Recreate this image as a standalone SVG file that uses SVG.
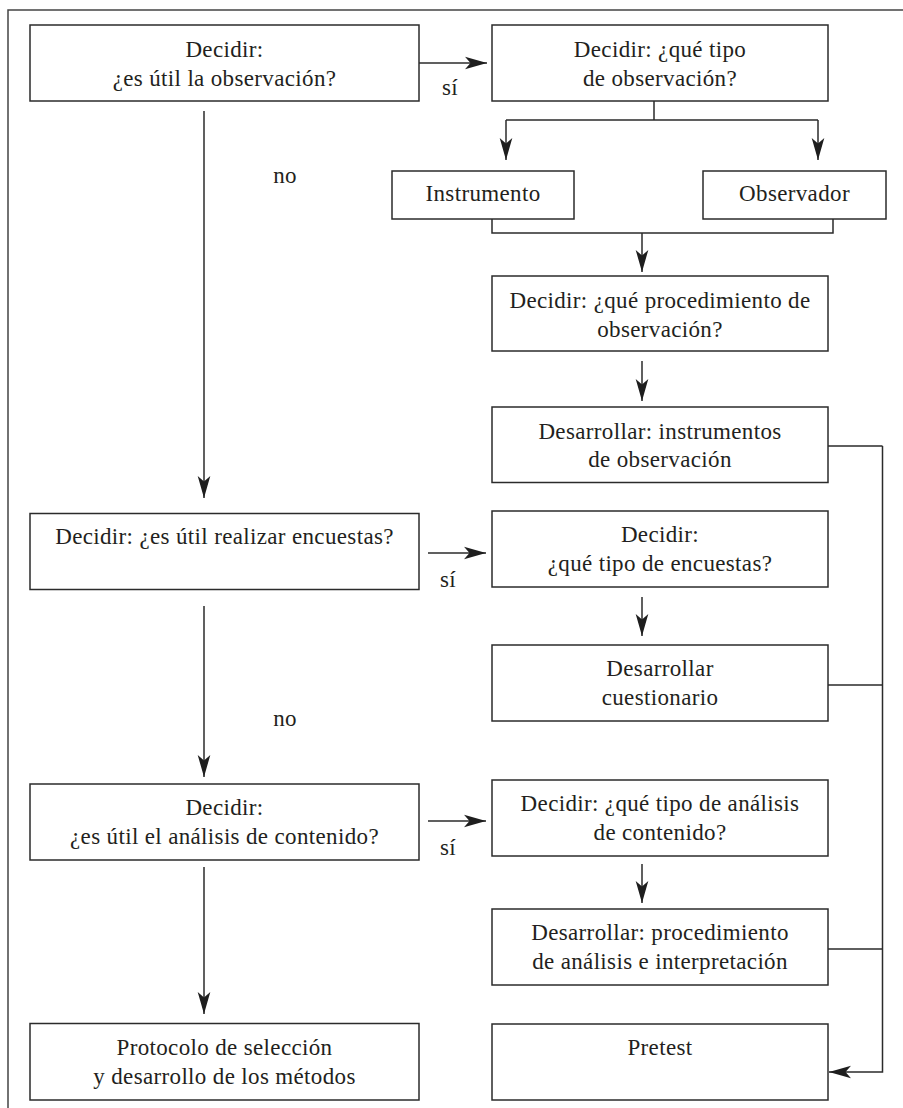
<svg xmlns="http://www.w3.org/2000/svg" width="903" height="1108" viewBox="0 0 903 1108">
  <style>
    .box { fill: #ffffff; stroke: #2b2b2b; stroke-width: 1.5; }
    .lbl { font-family: "Liberation Serif", "Times New Roman", serif; font-size: 23px; letter-spacing: 0.35px; fill: #231f20; text-anchor: middle; }
    .edge { fill: none; stroke: #2b2b2b; stroke-width: 1.5; }
    .arrow { marker-end: url(#head); }
    .frame { fill: none; stroke: #444444; stroke-width: 1.5; }
  </style>
  <defs>
    <marker id="head" viewBox="-24 -8 25 16" refX="0" refY="0" markerWidth="25" markerHeight="16" markerUnits="userSpaceOnUse" orient="auto">
      <path d="M0,0 L-22,-6.3 L-16.5,0 L-22,6.3 Z" fill="#1e1e1e"/>
    </marker>
  </defs>
  <rect width="903" height="1108" fill="#ffffff"/>

  <!-- page frame -->
  <path class="frame" d="M8,1108 V10 H903"/>

  <!-- connectors -->
  <g id="connectors">
    <!-- observation branch -->
    <path class="edge arrow" d="M419,63 H487"/>
    <path class="edge arrow" d="M204,111 V498"/>
    <path class="edge" d="M654,101 V120 M506,120 H818"/>
    <path class="edge arrow" d="M506,120 V160"/>
    <path class="edge arrow" d="M818,120 V160"/>
    <path class="edge" d="M492,219 V233 H833 V219"/>
    <path class="edge arrow" d="M642,233 V272"/>
    <path class="edge arrow" d="M642,361 V401"/>

    <!-- survey branch -->
    <path class="edge arrow" d="M428,553 H486"/>
    <path class="edge arrow" d="M204,606 V777"/>
    <path class="edge arrow" d="M642,597 V636"/>

    <!-- content analysis branch -->
    <path class="edge arrow" d="M428,821 H486"/>
    <path class="edge arrow" d="M204,867 V1014"/>
    <path class="edge arrow" d="M642,864 V903"/>

    <!-- collector to pretest -->
    <path class="edge" d="M828,446 H882.5 M828,685 H882.5 M828,949 H882.5"/>
    <path class="edge arrow" d="M882.5,446 V1072 H829"/>

    <!-- branch labels -->
    <text class="lbl" x="450" y="95">sí</text>
    <text class="lbl" x="448" y="587">sí</text>
    <text class="lbl" x="448" y="855">sí</text>
    <text class="lbl" x="285" y="183">no</text>
    <text class="lbl" x="285" y="726">no</text>
  </g>

  <!-- left column -->
  <g id="n-observacion">
    <rect class="box" x="30" y="25" width="389" height="76"/>
    <text class="lbl" x="224.5" y="57">Decidir:</text>
    <text class="lbl" x="224.5" y="86">¿es útil la observación?</text>
  </g>
  <g id="n-encuestas">
    <rect class="box" x="30" y="513.5" width="389" height="76"/>
    <text class="lbl" x="224.5" y="544">Decidir: ¿es útil realizar encuestas?</text>
  </g>
  <g id="n-contenido">
    <rect class="box" x="30" y="784" width="389" height="76"/>
    <text class="lbl" x="224.5" y="815">Decidir:</text>
    <text class="lbl" x="224.5" y="844">¿es útil el análisis de contenido?</text>
  </g>
  <g id="n-protocolo">
    <rect class="box" x="30" y="1023.5" width="389" height="76.5"/>
    <text class="lbl" x="224.5" y="1055">Protocolo de selección</text>
    <text class="lbl" x="224.5" y="1084">y desarrollo de los métodos</text>
  </g>

  <!-- right column -->
  <g id="n-tipo-observacion">
    <rect class="box" x="492" y="25" width="336" height="76"/>
    <text class="lbl" x="660" y="57">Decidir: ¿qué tipo</text>
    <text class="lbl" x="660" y="86">de observación?</text>
  </g>
  <g id="n-instrumento">
    <rect class="box" x="392" y="171" width="182" height="48"/>
    <text class="lbl" x="483" y="201">Instrumento</text>
  </g>
  <g id="n-observador">
    <rect class="box" x="703" y="171" width="183" height="48"/>
    <text class="lbl" x="794.5" y="201">Observador</text>
  </g>
  <g id="n-procedimiento">
    <rect class="box" x="492" y="276" width="336" height="75"/>
    <text class="lbl" x="660" y="307.5">Decidir: ¿qué procedimiento de</text>
    <text class="lbl" x="660" y="336.5">observación?</text>
  </g>
  <g id="n-instrumentos">
    <rect class="box" x="492" y="407" width="336" height="75.5"/>
    <text class="lbl" x="660" y="438.5">Desarrollar: instrumentos</text>
    <text class="lbl" x="660" y="467">de observación</text>
  </g>
  <g id="n-tipo-encuestas">
    <rect class="box" x="492" y="511" width="336" height="76"/>
    <text class="lbl" x="660" y="542">Decidir:</text>
    <text class="lbl" x="660" y="571">¿qué tipo de encuestas?</text>
  </g>
  <g id="n-cuestionario">
    <rect class="box" x="492" y="645" width="336" height="76"/>
    <text class="lbl" x="660" y="676">Desarrollar</text>
    <text class="lbl" x="660" y="705">cuestionario</text>
  </g>
  <g id="n-tipo-analisis">
    <rect class="box" x="492" y="780" width="336" height="76"/>
    <text class="lbl" x="660" y="811">Decidir: ¿qué tipo de análisis</text>
    <text class="lbl" x="660" y="840">de contenido?</text>
  </g>
  <g id="n-procedimiento-analisis">
    <rect class="box" x="492" y="909" width="336" height="76"/>
    <text class="lbl" x="660" y="940">Desarrollar: procedimiento</text>
    <text class="lbl" x="660" y="969">de análisis e interpretación</text>
  </g>
  <g id="n-pretest">
    <rect class="box" x="492" y="1024" width="336" height="76"/>
    <text class="lbl" x="660" y="1055">Pretest</text>
  </g>
</svg>
